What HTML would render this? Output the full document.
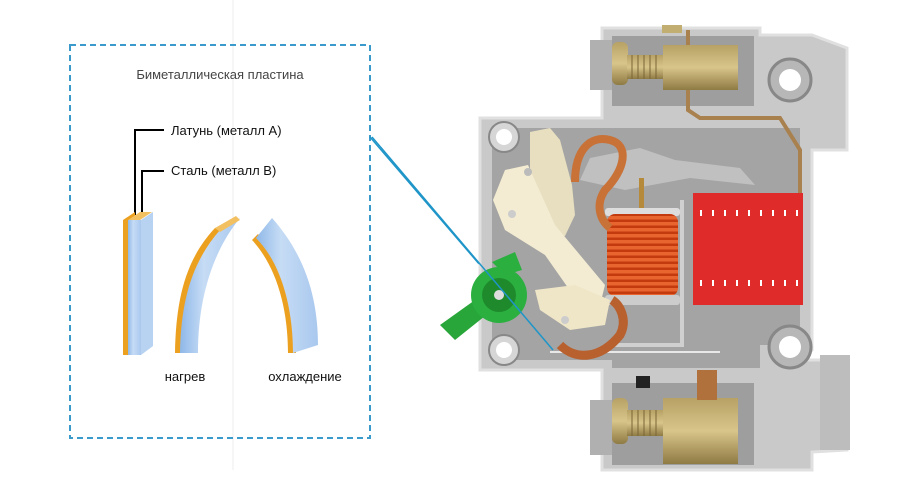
<!DOCTYPE html>
<html><head><meta charset="utf-8"><style>
html,body{margin:0;padding:0;background:#fff;width:900px;height:495px;overflow:hidden}
svg{display:block}
text{font-family:"Liberation Sans",Arial,sans-serif}
</style></head><body>
<svg width="900" height="495" viewBox="0 0 900 495" xmlns="http://www.w3.org/2000/svg">
<defs>
<linearGradient id="steel" x1="0" x2="1" y1="0" y2="0">
<stop offset="0" stop-color="#8fb8e8"/><stop offset="0.4" stop-color="#c6dcf5"/><stop offset="1" stop-color="#a9c8ee"/>
</linearGradient>
<linearGradient id="brass" x1="0" x2="0" y1="0" y2="1">
<stop offset="0" stop-color="#b7a165"/><stop offset="0.5" stop-color="#d8c58a"/><stop offset="1" stop-color="#8e7a43"/>
</linearGradient>
<linearGradient id="coil" x1="0" x2="0" y1="0" y2="1">
<stop offset="0" stop-color="#f07040"/><stop offset="0.5" stop-color="#d94818"/><stop offset="1" stop-color="#a52d08"/>
</linearGradient>
<pattern id="coilp" width="10" height="6" patternUnits="userSpaceOnUse">
<rect width="10" height="6" fill="#c23a0e"/><rect y="0" width="10" height="3.5" fill="#e8652f"/>
</pattern>
</defs>

<!-- faint vertical -->
<line x1="233" y1="0" x2="233" y2="470" stroke="#eee" stroke-width="1"/>

<!-- dashed box -->
<rect x="70" y="45" width="300" height="393" fill="none" stroke="#3a9acb" stroke-width="2" stroke-dasharray="6,4"/>
<line x1="370" y1="137" x2="553" y2="350" stroke="#1f95c8" stroke-width="1.5"/>

<text x="220" y="79" font-size="13" fill="#444" text-anchor="middle">Биметаллическая пластина</text>
<text x="171" y="135" font-size="13" fill="#111">Латунь (металл А)</text>
<text x="171" y="175" font-size="13" fill="#111">Сталь (металл В)</text>
<polyline points="164,130 135,130 135,215" fill="none" stroke="#000" stroke-width="2"/>
<polyline points="164,171 142,171 142,215" fill="none" stroke="#000" stroke-width="2"/>

<!-- straight strip -->
<polygon points="123,220 135,212 135,355 123,355" fill="#eca020"/>
<polygon points="128,220 140,212 152,212 140,220" fill="#f2c060"/>
<rect x="128" y="220" width="13" height="135" fill="url(#steel)"/>
<polygon points="141,220 153,212 153,346 141,355" fill="#b8d2f2"/>
<!-- heating strip -->
<path d="M175,353 C176,300 185,260 215,228 L223,232 C195,265 186,305 186,353 Z" fill="#eca020"/>
<path d="M180,353 C181,300 192,262 220,230 L240,218 C212,252 198,300 198,353 Z" fill="url(#steel)"/>
<polygon points="215,228 236,216 240,220 220,232" fill="#f2c060"/>
<!-- cooling strip -->
<path d="M252,240 C275,265 288,305 288,353 L296,353 C296,305 283,262 258,234 Z" fill="#eca020"/>
<path d="M256,238 C280,262 293,305 293,353 L318,345 C318,298 305,255 272,218 Z" fill="url(#steel)"/>
<text x="185" y="381" font-size="13" fill="#111" text-anchor="middle">нагрев</text>
<text x="305" y="381" font-size="13" fill="#111" text-anchor="middle">охлаждение</text>

<!-- breaker body -->
<path d="M602,28 L760,28 L760,35 L812,35 L847,48 L847,150 L812,150 L812,350 L800,360 L847,360 L847,450 L812,452 L812,470 L602,470 L602,370 L480,370 L480,118 L602,118 Z" fill="#c9c9c9" stroke="#e0e0e0" stroke-width="3"/>
<path d="M820,355 L850,355 L850,450 L820,450 Z" fill="#bdbdbd"/>
<!-- cavities -->
<rect x="612" y="36" width="142" height="70" fill="#9e9e9e"/>
<rect x="612" y="383" width="142" height="82" fill="#9e9e9e"/>
<path d="M492,128 L800,128 L800,345 L760,345 L760,368 L612,368 L612,360 L492,360 Z" fill="#a4a4a4"/>
<rect x="590" y="40" width="22" height="50" fill="#b0b0b0"/>
<rect x="590" y="400" width="22" height="55" fill="#b0b0b0"/>
<!-- holes -->
<circle cx="790" cy="80" r="21" fill="#b7b7b7" stroke="#888" stroke-width="3"/><circle cx="790" cy="80" r="11" fill="#fff"/>
<circle cx="790" cy="347" r="21" fill="#b7b7b7" stroke="#888" stroke-width="3"/><circle cx="790" cy="347" r="11" fill="#fff"/>
<circle cx="504" cy="137" r="15" fill="#d6d6d6" stroke="#888" stroke-width="2"/><circle cx="504" cy="137" r="8" fill="#fff"/>
<circle cx="504" cy="350" r="15" fill="#d6d6d6" stroke="#888" stroke-width="2"/><circle cx="504" cy="350" r="8" fill="#fff"/>

<!-- top terminal -->
<rect x="662" y="25" width="20" height="8" fill="#c2ae70"/>
<polyline points="688,30 688,110 700,118 780,118 800,150 800,285" fill="none" stroke="#a8814f" stroke-width="4"/>
<rect x="612" y="42" width="16" height="43" rx="6" fill="url(#brass)"/>
<rect x="627" y="55" width="38" height="24" fill="url(#brass)"/>
<g stroke="#7a6535" stroke-width="1"><line x1="632" y1="55" x2="632" y2="79"/><line x1="638" y1="55" x2="638" y2="79"/><line x1="644" y1="55" x2="644" y2="79"/><line x1="650" y1="55" x2="650" y2="79"/><line x1="656" y1="55" x2="656" y2="79"/></g>
<rect x="663" y="45" width="75" height="45" fill="url(#brass)"/>
<!-- bottom terminal -->
<rect x="612" y="398" width="16" height="46" rx="6" fill="url(#brass)"/>
<rect x="627" y="410" width="38" height="26" fill="url(#brass)"/>
<g stroke="#7a6535" stroke-width="1"><line x1="632" y1="410" x2="632" y2="436"/><line x1="638" y1="410" x2="638" y2="436"/><line x1="644" y1="410" x2="644" y2="436"/><line x1="650" y1="410" x2="650" y2="436"/><line x1="656" y1="410" x2="656" y2="436"/></g>
<rect x="663" y="398" width="75" height="66" fill="url(#brass)"/>
<rect x="697" y="370" width="20" height="30" fill="#b0713d"/>
<rect x="636" y="376" width="14" height="12" fill="#222"/>

<!-- metal frame -->
<polyline points="682,200 682,345 612,345" fill="none" stroke="#d0d0d0" stroke-width="4"/>
<polyline points="550,352 720,352" fill="none" stroke="#e8e8e8" stroke-width="2"/>
<!-- red arc chute -->
<rect x="693" y="193" width="110" height="112" fill="#e02b2b"/>
<g fill="#fff">
<rect x="700" y="210" width="2" height="6"/><rect x="712" y="210" width="2" height="6"/><rect x="724" y="210" width="2" height="6"/><rect x="736" y="210" width="2" height="6"/><rect x="748" y="210" width="2" height="6"/><rect x="760" y="210" width="2" height="6"/><rect x="772" y="210" width="2" height="6"/><rect x="784" y="210" width="2" height="6"/><rect x="796" y="210" width="2" height="6"/>
<rect x="700" y="280" width="2" height="6"/><rect x="712" y="280" width="2" height="6"/><rect x="724" y="280" width="2" height="6"/><rect x="736" y="280" width="2" height="6"/><rect x="748" y="280" width="2" height="6"/><rect x="760" y="280" width="2" height="6"/><rect x="772" y="280" width="2" height="6"/><rect x="784" y="280" width="2" height="6"/><rect x="796" y="280" width="2" height="6"/>
</g>
<!-- bimetal plate silver -->
<polygon points="590,158 640,148 675,160 740,168 755,185 690,178 625,190 580,180" fill="#c0c0c0"/>
<rect x="639" y="178" width="5" height="35" fill="#b58a3a"/>
<!-- coil -->
<rect x="605" y="208" width="75" height="8" rx="3" fill="#ddd"/>
<rect x="607" y="214" width="71" height="82" rx="8" fill="url(#coilp)"/>
<rect x="605" y="295" width="75" height="10" rx="3" fill="#ccc"/>
<!-- copper braid -->
<path d="M575,182 C575,150 590,135 610,140 C630,145 625,170 605,190 C595,205 600,220 610,228" fill="none" stroke="#c87238" stroke-width="8"/>
<path d="M560,345 C575,360 600,360 620,335 C628,320 620,305 612,300" fill="none" stroke="#b8602e" stroke-width="9"/>

<!-- beige mechanism -->
<path d="M530,132 L550,128 L560,140 L572,185 L575,215 L565,236 L545,240 L530,200 Z" fill="#e8dfc0"/>
<path d="M505,170 L528,165 L555,225 L605,285 L600,305 L585,312 L545,255 L505,230 L493,200 Z" fill="#f3ecd2"/>
<path d="M535,290 L575,285 L610,300 L605,325 L570,330 L540,310 Z" fill="#efe6c8"/>
<circle cx="512" cy="214" r="4" fill="#ccc"/><circle cx="565" cy="320" r="4" fill="#ccc"/><circle cx="528" cy="172" r="4" fill="#bbb"/>

<!-- green handle -->
<path d="M440,325 L475,300 L490,312 L455,340 Z" fill="#28a63a"/>
<circle cx="499" cy="295" r="28" fill="#2bb040"/>
<circle cx="499" cy="295" r="17" fill="#1e8a2c"/>
<path d="M492,262 L515,252 L522,270 L505,275 Z" fill="#2bb040"/>
<circle cx="499" cy="295" r="5" fill="#ddd"/>
<line x1="372" y1="137" x2="553" y2="350" stroke="#1f95c8" stroke-width="1.5"/>
</svg>
</body></html>
